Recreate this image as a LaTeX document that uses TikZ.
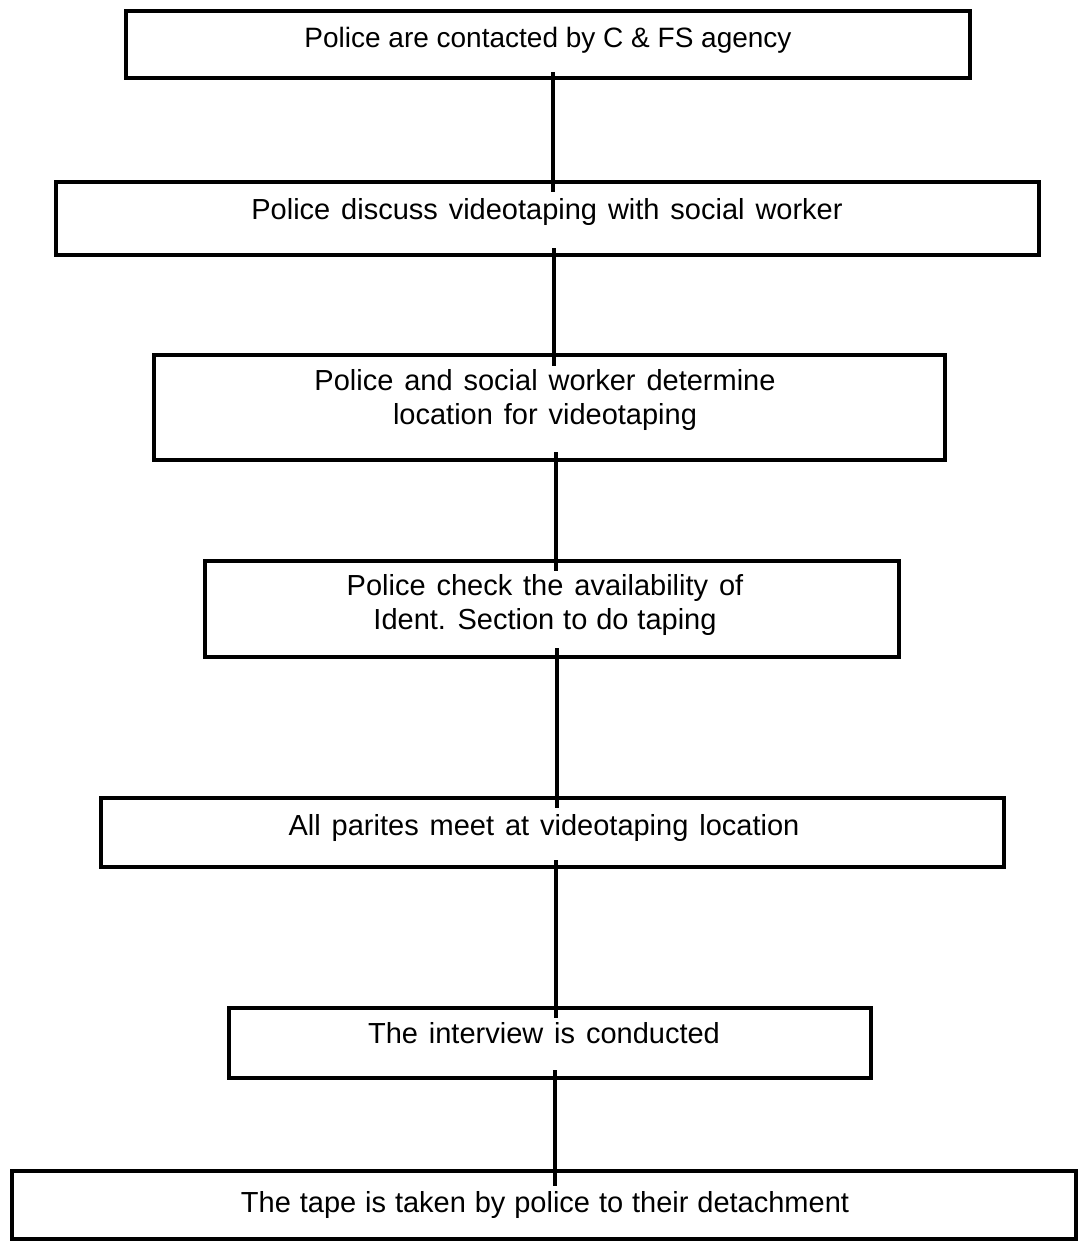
\documentclass[tikz,border=0pt]{standalone}
\usepackage{fontspec}
\setmainfont{Liberation Sans}
\newcommand\widesp{\spaceskip=10.9pt\relax}
\newcommand\midsp{\spaceskip=8.9pt\relax}
\newcommand\normsp{\spaceskip=0pt\relax}
\begin{document}
\begin{tikzpicture}[x=1pt,y=-1pt,
  box/.style={draw=black,line width=4pt,inner sep=0pt,outer sep=0pt},
  conn/.style={draw=black,line width=4.5pt},
  lbl/.style={font=\fontsize{29}{34}\selectfont,align=center,inner sep=0pt,text=black}]
\useasboundingbox (0,0) rectangle (1078,1242);
\fill[white] (0,0) rectangle (1078,1242);
% boxes
\node[box,minimum width=844pt,minimum height=67pt] (b1) at (548,44.5) {};
\node[box,minimum width=983pt,minimum height=73pt] (b2) at (547.5,218.5) {};
\node[box,minimum width=791pt,minimum height=105pt] (b3) at (549.5,407.5) {};
\node[box,minimum width=694pt,minimum height=96pt] (b4) at (552,609) {};
\node[box,minimum width=903pt,minimum height=69pt] (b5) at (552.5,832.5) {};
\node[box,minimum width=642pt,minimum height=70pt] (b6) at (550,1043) {};
\node[box,minimum width=1064pt,minimum height=68pt] (b7) at (544,1205) {};
% connectors
\draw[conn] ([xshift=5pt,yshift=6pt]b1.south) -- ([xshift=5.5pt,yshift=-10pt]b2.north);
\draw[conn] ([xshift=6.5pt,yshift=7pt]b2.south) -- ([xshift=4.5pt,yshift=-11pt]b3.north);
\draw[conn] ([xshift=6.5pt,yshift=8pt]b3.south) -- ([xshift=4pt,yshift=-10pt]b4.north);
\draw[conn] ([xshift=5pt,yshift=9pt]b4.south) -- ([xshift=4.5pt,yshift=-10pt]b5.north);
\draw[conn] ([xshift=3.5pt,yshift=7pt]b5.south) -- ([xshift=6pt,yshift=-10pt]b6.north);
\draw[conn] ([xshift=5pt,yshift=8pt]b6.south) -- ([xshift=11pt,yshift=-15pt]b7.north);
% texts
\node[lbl,font=\fontsize{28}{34}\selectfont] (t1) at (548,40) {Police are contacted by C \& FS agency};
\node[lbl] (t2) at (547,212) {\widesp Police discuss videotaping with social worker};
\node[lbl] (t3) at (545,400) {\widesp Police and social worker determine\\\widesp location for videotaping};
\node[lbl] (t4) at (545,605) {\widesp Police check the availability of\\\midsp Ident. Section to do taping};
\node[lbl] (t5) at (544,828) {\widesp All parites meet at videotaping location};
\node[lbl] (t6) at (544,1033) {\widesp The interview is conducted};
\node[lbl] (t7) at (545,1205) {\midsp The tape is taken by police to their detachment};
\end{tikzpicture}
\end{document}
